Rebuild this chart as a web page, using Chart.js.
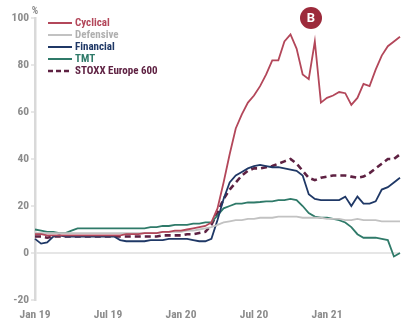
<!DOCTYPE html>
<html>
<head>
<meta charset="utf-8">
<script src="https://cdn.jsdelivr.net/npm/chart.js@4"></script>
<style>
  body { margin: 0; background: #fff; }
  #wrap { width: 414px; height: 325px; position: relative; }
</style>
</head>
<body>
<div id="wrap"><canvas id="sectorChart"></canvas></div>
<script>
// half-month periods, Jan 2019 to Jul 2021
const periods = [
  '19-01a','19-01b','19-02a','19-02b','19-03a','19-03b','19-04a','19-04b','19-05a','19-05b',
  '19-06a','19-06b','19-07a','19-07b','19-08a','19-08b','19-09a','19-09b','19-10a','19-10b',
  '19-11a','19-11b','19-12a','19-12b','20-01a','20-01b','20-02a','20-02b','20-03a','20-03b',
  '20-04a','20-04b','20-05a','20-05b','20-06a','20-06b','20-07a','20-07b','20-08a','20-08b',
  '20-09a','20-09b','20-10a','20-10b','20-11a','20-11b','20-12a','20-12b','21-01a','21-01b',
  '21-02a','21-02b','21-03a','21-03b','21-04a','21-04b','21-05a','21-05b','21-06a','21-06b',
  '21-07a'
];
const tickLabels = ['Jan 19', 'Jul 19', 'Jan 20', 'Jul 20', 'Jan 21'];

const cyclical = [
  8, 8, 7.5, 7.5, 7.5, 7.5, 7.5, 7.5, 7.5, 7.5, 7.5, 7.5, 7.5, 7.5, 7.5, 8, 8, 8, 8.5, 8.5,
  8.5, 9, 9, 9.5, 9.5, 10, 10.5, 11, 11.5,
  13, 19, 30, 42, 53, 59, 64, 67, 71, 76, 82, 82, 90, 93, 87, 76, 74, 90, 64, 66,
  67, 68.5, 68, 63, 66, 72, 71, 78, 84, 88, 90, 92
];
const defensive = [
  8.5, 8.5, 8.5, 8.5, 8.5, 8.5, 8.5, 8.5, 8.5, 8.5, 8.5, 8.5, 8.5, 8.5, 8.5, 8.5, 8.5, 8.5, 8.5, 8.5,
  8.5, 9, 9, 9, 9, 9.5, 9.5, 10, 10.5,
  11, 12, 13, 13.5, 14, 14, 14.5, 14.5, 15, 15, 15, 15.5, 15.5, 15.5, 15.5, 15, 15, 15, 15, 14.5,
  14.5, 14.5, 14, 14, 14.5, 14, 14, 14, 13.5, 13.5, 13.5, 13.5
];
const financial = [
  6, 4, 4.5, 7, 7.5, 7, 7, 7, 7, 7, 7, 7, 7, 7, 5.5, 5, 5, 5, 5, 5.5,
  5.5, 5.5, 6, 6, 6, 6, 5.5, 5, 5,
  6, 14, 23, 30, 33, 34.5, 36, 37, 37.5, 37, 36.5, 36.5, 36, 35.5, 35, 33, 25, 23, 22.5, 22.5,
  22.5, 22.5, 24, 20, 24, 21, 21, 22, 27, 28, 30, 32
];
const tmt = [
  10, 9.5, 9, 9, 8.5, 8.5, 9.5, 10.5, 10.5, 10.5, 10.5, 10.5, 10.5, 10.5, 10.5, 10.5, 10.5, 10.5, 10.5, 11,
  11, 11.5, 11.5, 12, 12, 12, 12.5, 12.5, 13,
  13, 16, 19, 20, 21, 21, 21.5, 21.5, 21.7, 22, 22, 22.5, 22.5, 23, 22.5, 20, 17, 15.5, 15, 15,
  14.5, 14, 13, 11, 8, 6.5, 6.5, 6.5, 6, 5.5, -1.5, 0
];
const stoxx600 = [
  7, 7, 6.5, 7, 7, 7, 7, 7, 7, 7, 7, 7, 7, 7, 7, 7, 7, 7, 7, 7,
  7, 7.5, 7.5, 7.5, 7.5, 8, 8, 8.5, 9,
  12, 17, 23, 27, 30, 33, 35, 36, 36, 36.5, 37, 38, 39, 40, 38, 35, 32, 31, 32, 32.5,
  33, 33, 33, 32.5, 32, 32.5, 34, 36, 38, 40, 40, 42
];

// Roboto with the condensed stretch picks up Roboto Condensed
const FONT = 'Roboto, sans-serif';
const GREY = '#8c8c8c';

// legend drawn as a vertical list at the top left, text in series colour
const sideLegend = {
  id: 'sideLegend',
  afterDraw(chart) {
    const c = chart.ctx;
    c.save();
    c.font = 'bold condensed 11px ' + FONT;
    c.textBaseline = 'middle';
    chart.data.datasets.forEach((ds, i) => {
      const y = 23 + i * 12;
      c.strokeStyle = ds.borderColor;
      c.lineWidth = ds.borderDash ? 2.5 : 2;
      c.setLineDash(ds.borderDash ? [5, 3] : []);
      c.beginPath();
      c.moveTo(48, y);
      c.lineTo(72, y);
      c.stroke();
      c.fillStyle = ds.textColor;
      c.fillText(ds.label, 75, y + 0.5);
    });
    c.setLineDash([]);

    // unit above the y axis
    c.fillStyle = GREY;
    c.font = 'bold condensed 10px ' + FONT;
    c.textAlign = 'center';
    c.fillText('%', 35, 11);

    // "B" badge
    c.fillStyle = '#9c2a3b';
    c.beginPath();
    c.arc(311, 18, 11, 0, Math.PI * 2);
    c.fill();
    c.fillStyle = '#fff';
    c.font = 'bold 13px ' + FONT;
    c.fillText('B', 311, 18.5);
    c.restore();
  }
};

const line = (label, values, color, textColor, extra) => Object.assign({
  label: label,
  data: values,
  borderColor: color,
  textColor: textColor,
  borderWidth: 1.8,
  pointRadius: 0,
  tension: 0,
  fill: false
}, extra || {});

const tickFont = { family: FONT, size: 11.5, weight: 'bold condensed' };

new Chart(document.getElementById('sectorChart'), {
  type: 'line',
  data: {
    labels: periods,
    datasets: [
      line('Cyclical', cyclical, '#b3475a', '#b3475a'),
      line('Defensive', defensive, '#c2c2c2', '#b0b0b0'),
      line('Financial', financial, '#1f3866', '#1f3866'),
      line('TMT', tmt, '#2f7a69', '#2f7a69'),
      line('STOXX Europe 600', stoxx600, '#5e2142', '#5e2142', { borderDash: [6, 4], borderWidth: 2.6 })
    ]
  },
  options: {
    responsive: true,
    maintainAspectRatio: false,
    animation: false,
    layout: { padding: { top: 18, right: 14, bottom: 0, left: 0 } },
    plugins: {
      legend: { display: false },
      tooltip: { enabled: false }
    },
    scales: {
      x: {
        grid: { display: false, drawTicks: false },
        border: { display: false },
        ticks: {
          autoSkip: false,
          maxRotation: 0,
          padding: 8,
          color: GREY,
          font: tickFont,
          callback: (val, i) => (i % 12 === 0 ? tickLabels[i / 12] : '')
        },
        afterFit: (scale) => { scale.height = 25; }
      },
      y: {
        min: -20,
        max: 100,
        ticks: {
          stepSize: 20,
          padding: 2,
          color: GREY,
          font: tickFont
        },
        grid: {
          color: (ctx) => (ctx.tick && ctx.tick.value === 0 ? '#e6e6e6' : 'rgba(0,0,0,0)'),
          lineWidth: 2,
          tickColor: '#cfcfcf',
          tickLength: 4,
          tickWidth: 1
        },
        border: { color: '#d9d9d9', width: 2.5 },
        afterFit: (scale) => { scale.width = 35; }
      }
    }
  },
  plugins: [sideLegend]
});
</script>
</body>
</html>
